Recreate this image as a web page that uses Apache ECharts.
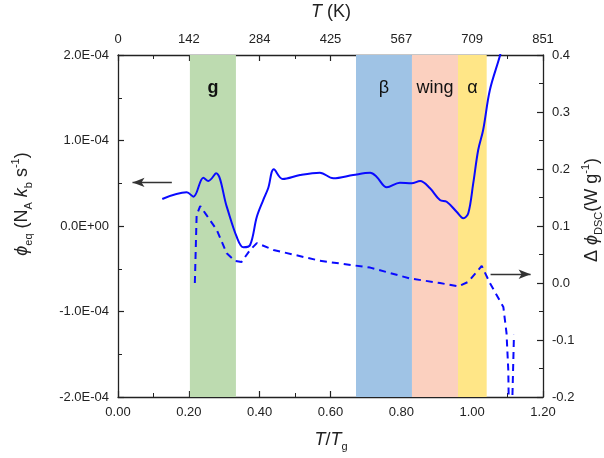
<!DOCTYPE html>
<html><head><meta charset="utf-8">
<script src="https://cdn.jsdelivr.net/npm/echarts@6/dist/echarts.min.js"></script>
<style>html,body{margin:0;padding:0;background:#fff}#c{width:604px;height:458px}</style>
</head><body><div id="c"></div>
<script>
// ---- data ----
const bottomTicks = ['0.00','0.20','0.40','0.60','0.80','1.00','1.20'];
const topTicks = ['0','142','284','425','567','709','851'];
const leftTicks = ['-2.0E-04','-1.0E-04','0.0E+00','1.0E-04','2.0E-04']; // axis unit = 1e-4
const rightTicks = ['-0.2','-0.1','0.0','0.1','0.2','0.3','0.4'];

// phi_eq (in units of 1e-4 N_A k_b s^-1) vs T/Tg
const solidX = [0.125,0.194,0.213,0.241,0.255,0.277,0.307,0.335,0.354,0.373,0.392,0.410,0.424,0.440,0.465,0.514,0.570,0.608,0.664,0.712,0.730,0.759,0.796,0.829,0.853,0.881,0.909,0.928,0.956,0.975,0.989,1.003,1.017,1.031,1.050,1.079,1.090];
const solidY = [0.316,0.394,0.343,0.565,0.526,0.616,0.226,-0.125,-0.249,-0.222,0.109,0.304,0.441,0.663,0.550,0.596,0.623,0.558,0.596,0.623,0.577,0.453,0.506,0.499,0.526,0.441,0.304,0.284,0.167,0.090,0.149,0.499,0.889,1.123,1.591,2.000,2.200];

// Delta phi_DSC (W g^-1) vs T/Tg
const dashX = [0.217,0.222,0.232,0.250,0.279,0.307,0.330,0.349,0.373,0.392,0.439,0.570,0.712,0.824,0.909,0.961,0.989,1.027,1.050,1.088,1.097,1.102,1.104,1.112,1.118];
const dashY = [0.000,0.119,0.135,0.119,0.093,0.052,0.039,0.037,0.058,0.070,0.058,0.039,0.027,0.008,0.000,-0.006,0.002,0.030,0.000,-0.042,-0.088,-0.153,-0.240,-0.240,-0.091];

const bandNames = ['g','β','wing','α'];
const bandStart = [0.203,0.672,0.830,0.960];
const bandEnd = [0.333,0.830,0.960,1.041];

// arrows
const leftArrow = {x0:0.152, x1:0.041, y:0.51};
const rightArrow = {x0:1.052, x1:1.165, y:0.0153};

// ---- styles ----
const bandColors = ['#bddbb0','#9fc3e5','#fbd0bf','#ffe687'];
const FONT = 'Arial, "Liberation Sans", sans-serif';
const AX = '#222';
const BLUE = '#0a0aff';

const chart = echarts.init(document.getElementById('c'), null, {renderer:'canvas'});

function axisCommon(){
  return {
    axisLine:{show:true, onZero:false, lineStyle:{color:AX, width:1.3}},
    axisTick:{show:true, inside:true, length:6, lineStyle:{color:AX, width:1.2}},
    minorTick:{show:true, splitNumber:2, length:4, lineStyle:{color:AX, width:1}},
    splitLine:{show:false},
    axisLabel:{color:AX, fontSize:13, fontFamily:FONT, margin:9},
  };
}

const subRich = {
  i:{fontStyle:'italic', fontSize:18, fontFamily:FONT, lineHeight:24, fill:AX},
  n:{fontSize:18, fontFamily:FONT, lineHeight:24, fill:AX},
  s:{fontSize:11, fontFamily:FONT, lineHeight:12, verticalAlign:'bottom', fill:AX},
  p:{fontSize:11, fontFamily:FONT, lineHeight:12, verticalAlign:'top', fill:AX}
};
function nameText(x, y, rot, text){
  return {type:'text', x:x, y:y, rotation:rot, silent:true,
    style:{text:text, rich:subRich, fontSize:18, fontFamily:FONT, lineHeight:24, fill:AX, align:'center', verticalAlign:'middle'}};
}

const option = {
  animation:false,
  backgroundColor:'#fff',
  grid:{left:118, right:61, top:55, bottom:61, containLabel:false, outerBoundsMode:'none'},
  xAxis:[
    Object.assign(axisCommon(), {type:'value', min:0, max:1.2, interval:0.2, position:'bottom',
      axisLabel:Object.assign(axisCommon().axisLabel, {formatter:v=>bottomTicks[Math.round(v/0.2)]})}),
    Object.assign(axisCommon(), {type:'value', min:0, max:1.2, interval:0.2, position:'top',
      axisLabel:Object.assign(axisCommon().axisLabel, {formatter:v=>topTicks[Math.round(v/0.2)]})})
  ],
  yAxis:[
    Object.assign(axisCommon(), {type:'value', min:-2, max:2, interval:1, position:'left',
      axisLabel:Object.assign(axisCommon().axisLabel, {formatter:v=>leftTicks[Math.round(v)+2]})}),
    Object.assign(axisCommon(), {type:'value', min:-0.2, max:0.4, interval:0.1, position:'right',
      axisLabel:Object.assign(axisCommon().axisLabel, {formatter:v=>rightTicks[Math.round((v+0.2)/0.1)]})})
  ],
  graphic:[
    nameText(22, 204, Math.PI/2, '{i|ϕ}{s|eq} (N{s|A} {i|k}{s|b} s{p|-1})'),
    nameText(592, 210, Math.PI/2, 'Δ {i|ϕ}{s|DSC}(W g{p|-1})'),
    nameText(331, 440, 0, '{i|T}/{i|T}{s|g}'),
    nameText(331, 12, 0, '{i|T} (K)')
  ],
  series:[
    {type:'line', xAxisIndex:0, yAxisIndex:0, data:[], z:1, silent:true,
      markArea:{silent:true, data: bandNames.map((n,i)=>[
        {xAxis:bandStart[i], name:n, itemStyle:{color:bandColors[i], opacity:1},
          label:{show:true, position:'insideTop', distance:24, color:'#111', fontSize:18, fontFamily:FONT, fontWeight: i===0?'bold':'normal'}},
        {xAxis:bandEnd[i]}
      ])}
    },
    {type:'line', name:'dsc', xAxisIndex:0, yAxisIndex:1, z:3, silent:true,
      data: dashX.map((x,i)=>[x, dashY[i]]), showSymbol:false, symbol:'none', smooth:false, clip:true,
      lineStyle:{color:BLUE, width:2, type:[7,5]},
      markLine:{silent:true, animation:false, symbolSize:[7,12], label:{show:false},
        lineStyle:{color:'#333', width:1.3, type:'solid'},
        data:[[{coord:[rightArrow.x0, rightArrow.y], symbol:'none'},{coord:[rightArrow.x1, rightArrow.y], symbol:'arrow'}]]}
    },
    {type:'line', name:'eq', xAxisIndex:0, yAxisIndex:0, z:4, silent:true,
      data: solidX.map((x,i)=>[x, solidY[i]]), showSymbol:false, symbol:'none', smooth:0.35, clip:true,
      lineStyle:{color:BLUE, width:2},
      markLine:{silent:true, animation:false, symbolSize:[7,12], label:{show:false},
        lineStyle:{color:'#333', width:1.3, type:'solid'},
        data:[[{coord:[leftArrow.x0, leftArrow.y], symbol:'none'},{coord:[leftArrow.x1, leftArrow.y], symbol:'arrow'}]]}
    }
  ]
};
chart.setOption(option);
</script>
</body></html>
